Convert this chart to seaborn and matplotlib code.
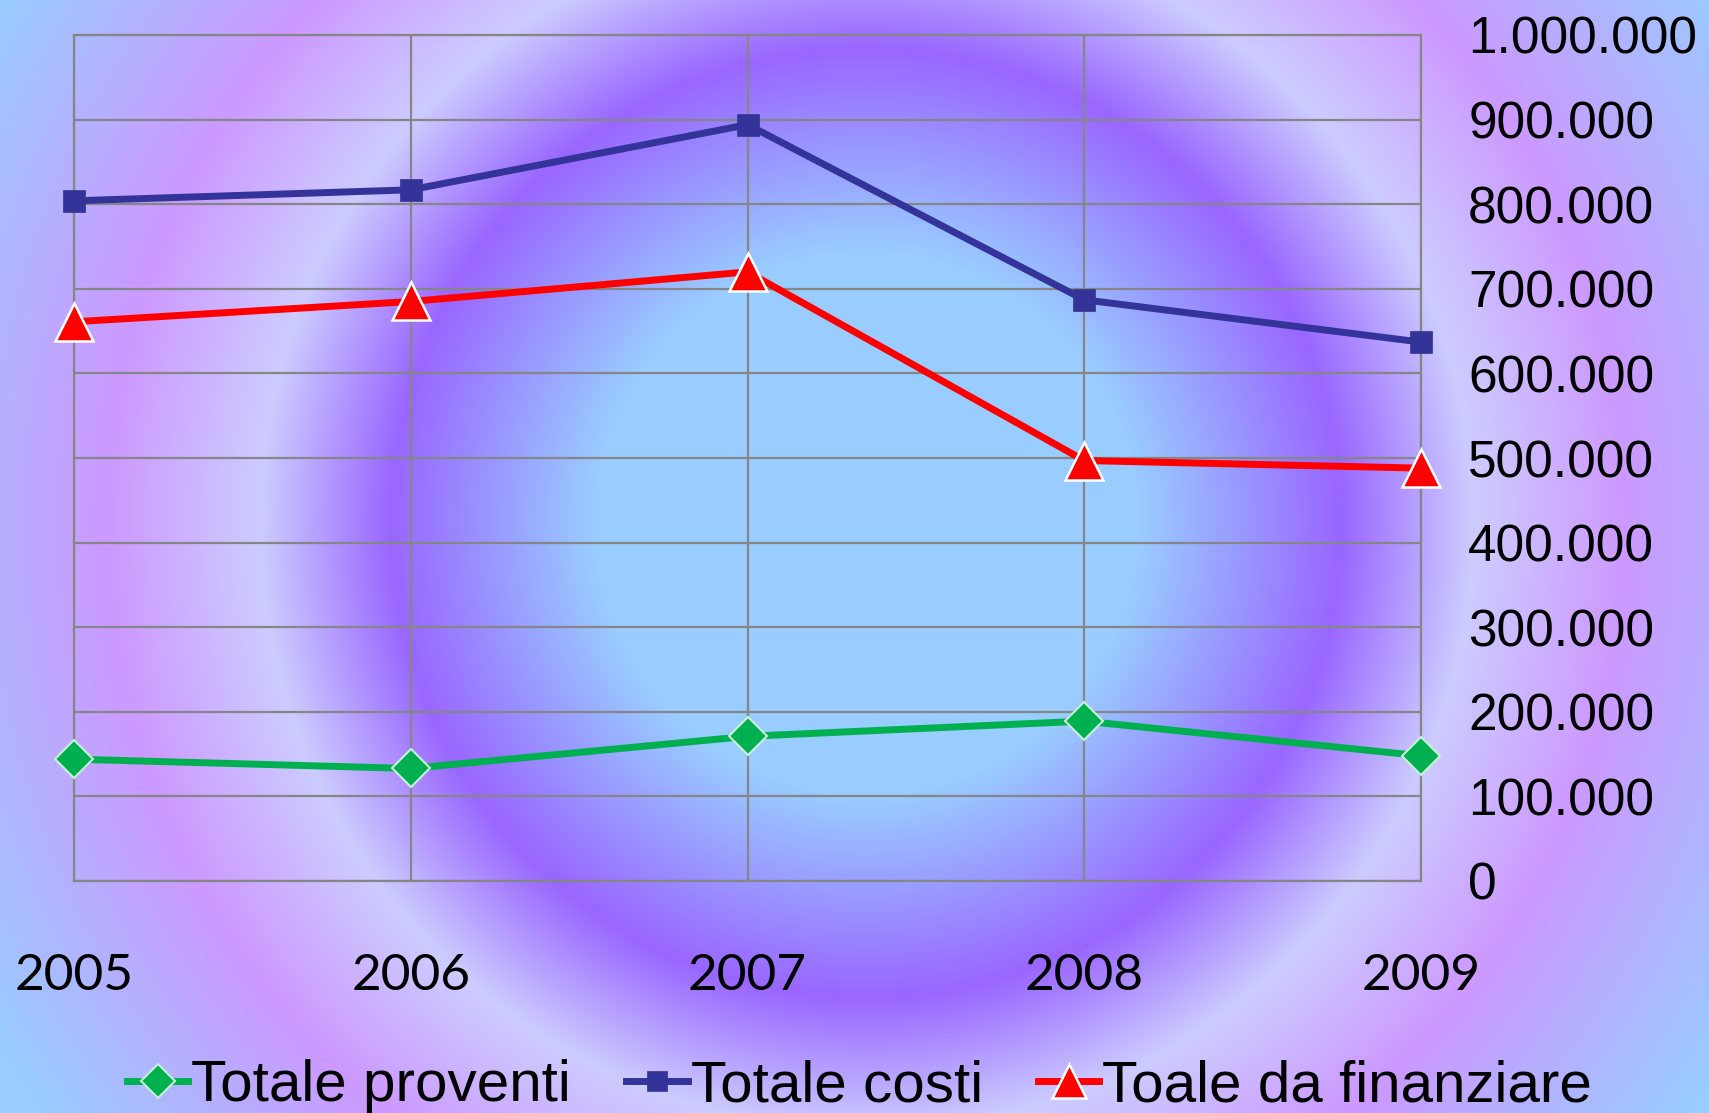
import numpy as np
import pandas as pd
import matplotlib
matplotlib.use("Agg")
import matplotlib.pyplot as plt
import seaborn as sns
from matplotlib.colors import to_rgb
from matplotlib.lines import Line2D

# ---------------- data ----------------
years = [2005, 2006, 2007, 2008, 2009]
totale_proventi = [144000, 133000, 171000, 189000, 148000]
totale_costi = [804000, 817000, 894000, 687000, 637000]
toale_da_finanziare = [661000, 685000, 720000, 497000, 488000]
series_names = ["Totale proventi", "Totale costi", "Toale da finanziare"]
y_ticks = [0, 100000, 200000, 300000, 400000, 500000, 600000, 700000, 800000, 900000, 1000000]
y_tick_labels = ["0", "100.000", "200.000", "300.000", "400.000", "500.000",
                 "600.000", "700.000", "800.000", "900.000", "1.000.000"]

df = pd.DataFrame({
    "anno": years * 3,
    "valore": totale_proventi + totale_costi + toale_da_finanziare,
    "serie": [series_names[0]] * 5 + [series_names[1]] * 5 + [series_names[2]] * 5,
})

styles = {
    "Totale proventi": dict(color="#00B050", marker="D", ms=19, mec="#C8F0D8", mew=1.5),
    "Totale costi": dict(color="#333399", marker="s", ms=16, mec="#333399", mew=0.5),
    "Toale da finanziare": dict(color="#FF0000", marker="^", ms=27, mec="white", mew=1.8),
}

# ---------------- figure ----------------
W, H, DPI = 1709, 1113, 100
fig = plt.figure(figsize=(W / DPI, H / DPI), dpi=DPI)

# radial gradient background
yy, xx = np.mgrid[0:H, 0:W]
d = np.hypot(xx - 866, yy - 523) / 1010.0
stops = [0.0, 0.27, 0.47, 0.60, 0.75, 1.0]
cols = ["#99CCFF", "#99CCFF", "#9966FF", "#CCCCFF", "#CC99FF", "#99CCFF"]
img = np.zeros((H, W, 3))
for c in range(3):
    img[..., c] = np.interp(d, stops, [to_rgb(k)[c] for k in cols])
bg = fig.add_axes([0, 0, 1, 1], zorder=-1)
bg.imshow(img, aspect="auto", extent=[0, 1, 0, 1], interpolation="bilinear")
bg.axis("off")

ax = fig.add_axes([74 / W, (H - 881) / H, (1421 - 74) / W, (881 - 35) / H])
ax.set_facecolor("none")

for name in series_names:
    st = styles[name]
    sub = df[df["serie"] == name]
    sns.lineplot(data=sub, x="anno", y="valore", ax=ax, color=st["color"], lw=5,
                 marker=st["marker"], markersize=st["ms"], markeredgecolor=st["mec"],
                 markeredgewidth=st["mew"], clip_on=False, zorder=5, legend=False)

ax.set_xlim(2005, 2009)
ax.set_ylim(0, 1000000)
ax.set_xticks(years)
ax.set_xticklabels([str(y) for y in years], fontfamily="Lato", fontsize=37)
ax.set_yticks(y_ticks)
ax.set_yticklabels(y_tick_labels, fontfamily="Liberation Sans", fontsize=37)
ax.yaxis.tick_right()
ax.tick_params(axis="y", length=0, pad=34)
ax.tick_params(axis="x", length=0, pad=52)
ax.set_xlabel("")
ax.set_ylabel("")
ax.grid(True, color="#868686", lw=1.6)
ax.set_axisbelow(True)
for s in ax.spines.values():
    s.set_color("#868686")
    s.set_linewidth(1.6)

handles = [Line2D([], [], color=styles[n]["color"], lw=5, marker=styles[n]["marker"],
                  markersize=styles[n]["ms"] * 0.9, markeredgecolor=styles[n]["mec"],
                  markeredgewidth=styles[n]["mew"]) for n in series_names]
fig.legend(handles, series_names, loc="center", bbox_to_anchor=(0.503, 0.024),
           ncol=3, frameon=False, prop={"family": "Liberation Sans", "size": 42},
           handlelength=1.05, handletextpad=0.05, columnspacing=0.95,
           borderpad=0, borderaxespad=0)

fig.savefig("out.png", dpi=DPI)
